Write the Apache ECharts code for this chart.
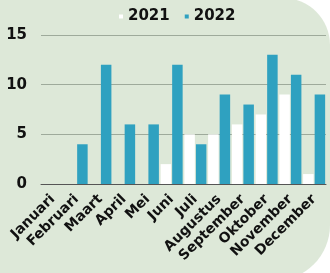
<!DOCTYPE html>
<html>
<head>
<meta charset="utf-8">
<script src="https://cdn.jsdelivr.net/npm/echarts@6/dist/echarts.min.js"></script>
<style>
  html, body { margin: 0; padding: 0; background: #fff; overflow: hidden; }
  .bg {
    position: absolute; left: 0; top: -2px; width: 330px; height: 283px;
    background: #dde8d8;
    border-radius: 0 47px 56px 0;
  }
  #chart { position: absolute; left: 0; top: 0; width: 330px; height: 273px; }
</style>
</head>
<body>
<div class="bg"></div>
<div id="chart"></div>
<script>
const months = ['Januari', 'Februari', 'Maart', 'April', 'Mei', 'Juni', 'Juli',
  'Augustus', 'September', 'Oktober', 'November', 'December'];
const values2021 = [0, 0, 0, 0, 0, 2, 5, 5, 6, 7, 9, 1];
const values2022 = [0, 4, 12, 6, 6, 12, 4, 9, 8, 13, 11, 9];
const yTicks = [0, 5, 10, 15];

const font = 'DejaVu Sans';
const chart = echarts.init(document.getElementById('chart'));
const option = {
  animation: false,
  legend: {
    top: 9,
    left: 119,
    padding: 0,
    itemWidth: 4,
    itemHeight: 4,
    itemGap: 15,
    icon: 'rect',
    textStyle: { fontFamily: font, fontWeight: 'bold', fontSize: 15, color: '#111' },
    data: ['2021', '2022']
  },
  grid: { left: 41, right: 4, top: 35, bottom: 89 },
  xAxis: {
    type: 'category',
    data: months,
    axisTick: { show: false },
    axisLine: { lineStyle: { color: '#555', width: 1 } },
    axisLabel: {
      rotate: 45,
      interval: 0,
      margin: 13,
      fontFamily: font,
      fontWeight: 'bold',
      fontSize: 14,
      color: '#111'
    }
  },
  yAxis: {
    type: 'value',
    min: yTicks[0],
    max: yTicks[yTicks.length - 1],
    interval: 5,
    axisLine: { show: false },
    axisTick: { show: false },
    splitLine: { lineStyle: { color: '#9eaa9b', width: 1 } },
    axisLabel: { margin: 14, fontFamily: font, fontWeight: 'bold', fontSize: 15, color: '#111' }
  },
  series: [
    {
      name: '2021',
      type: 'bar',
      data: values2021,
      barWidth: 10.5,
      barGap: '10%',
      itemStyle: { color: '#ffffff' }
    },
    {
      name: '2022',
      type: 'bar',
      data: values2022,
      barWidth: 10.5,
      barGap: '10%',
      itemStyle: { color: '#2fa1c0' }
    }
  ]
};
chart.setOption(option);
</script>
</body>
</html>
